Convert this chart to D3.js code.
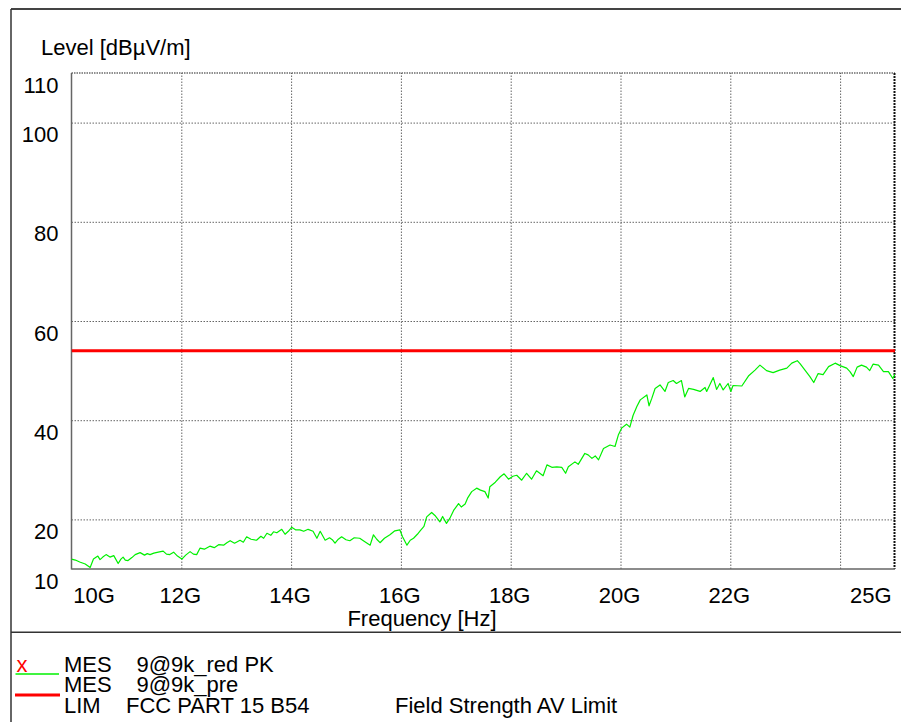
<!DOCTYPE html>
<html>
<head>
<meta charset="utf-8">
<script src="https://cdn.jsdelivr.net/npm/d3@7"></script>
<style>
  html, body { margin: 0; padding: 0; background: #fff; }
  svg { display: block; }
  text { font-family: "Liberation Sans", Arial, Helvetica, sans-serif; fill: #000; }
</style>
</head>
<body>
<svg id="chart" width="901" height="722"></svg>
<script>
// ---------- data ----------
const freqGHz = [10.00,10.07,10.15,10.25,10.34,10.40,10.48,10.52,10.57,10.63,10.70,10.77,10.85,10.90,10.94,10.98,11.03,11.10,11.16,11.25,11.33,11.38,11.43,11.50,11.58,11.67,11.73,11.79,11.86,11.93,12.01,12.08,12.16,12.22,12.28,12.34,12.42,12.52,12.60,12.68,12.77,12.83,12.89,12.97,13.07,13.13,13.19,13.27,13.37,13.45,13.50,13.56,13.63,13.68,13.74,13.83,13.89,13.95,14.01,14.08,14.16,14.23,14.31,14.40,14.47,14.53,14.62,14.70,14.75,14.80,14.86,14.92,15.00,15.07,15.15,15.25,15.33,15.44,15.50,15.56,15.62,15.70,15.80,15.89,15.98,16.03,16.11,16.17,16.23,16.30,16.35,16.42,16.47,16.56,16.62,16.71,16.76,16.83,16.89,16.96,17.05,17.10,17.17,17.22,17.29,17.38,17.45,17.53,17.59,17.62,17.72,17.81,17.88,17.96,18.04,18.11,18.20,18.29,18.38,18.47,18.59,18.66,18.75,18.84,18.93,19.00,19.05,19.17,19.23,19.35,19.41,19.48,19.54,19.60,19.69,19.81,19.90,19.96,20.02,20.11,20.17,20.23,20.30,20.36,20.48,20.52,20.57,20.63,20.72,20.81,20.87,20.96,21.02,21.11,21.17,21.24,21.33,21.45,21.54,21.57,21.69,21.75,21.81,21.87,21.96,22.01,22.05,22.21,22.33,22.45,22.54,22.66,22.78,22.90,23.03,23.12,23.22,23.27,23.36,23.45,23.52,23.60,23.69,23.79,23.91,24.00,24.12,24.18,24.24,24.31,24.39,24.48,24.54,24.60,24.70,24.79,24.88,24.96,25.00];
const levelPK = [12.0,11.8,11.4,11.0,10.3,12.0,12.6,11.9,12.4,12.9,12.4,12.7,11.1,12.0,12.4,11.8,11.7,12.3,12.9,13.3,12.8,13.1,12.9,13.2,13.4,13.6,13.0,12.9,13.4,12.6,12.0,12.8,13.5,13.0,12.9,14.2,14.0,14.6,14.3,14.9,14.8,15.3,15.7,15.2,15.8,15.4,16.5,16.0,15.8,16.6,16.2,17.2,16.8,17.5,17.3,18.0,17.0,17.6,18.4,17.9,17.9,17.6,18.0,17.6,16.2,17.6,15.8,16.3,15.9,15.2,16.0,16.5,15.9,15.7,16.3,16.2,15.6,14.8,16.9,16.0,15.3,16.2,16.9,17.7,17.9,16.5,14.8,15.8,16.2,17.0,17.7,18.6,20.5,21.4,20.8,19.5,20.6,19.2,20.2,21.8,23.2,22.5,23.1,24.4,25.6,26.3,25.9,25.6,24.3,26.6,27.5,28.6,29.2,28.1,28.7,28.9,27.9,29.3,28.1,29.8,28.8,31.0,30.5,30.6,30.5,29.3,30.6,31.6,31.1,33.3,33.0,32.3,32.8,32.0,34.3,35.0,34.7,37.0,38.4,39.2,38.6,41.0,42.8,44.1,45.1,42.9,44.4,46.4,47.1,45.8,47.6,48.0,47.4,48.0,44.7,46.4,46.2,45.8,46.6,45.8,48.6,46.2,47.4,46.1,47.4,45.8,47.0,46.9,48.9,50.1,51.1,50.0,49.6,50.1,50.5,51.5,52.0,51.4,50.1,48.8,47.6,49.4,49.2,50.8,51.5,51.0,50.5,49.8,48.8,50.7,51.1,50.7,50.0,51.3,51.1,49.8,49.8,48.4,49.3];
const limitFreqGHz = [10, 25];
const limitLevel = [54, 54];
const yTickValues = [10, 20, 40, 60, 80, 100, 110];
const yGridValues = [20, 40, 60, 80, 100];
const xTickValues = [10, 12, 14, 16, 18, 20, 22, 25];
const xTickLabels = ["10G", "12G", "14G", "16G", "18G", "20G", "22G", "25G"];
const xGridValues = [12, 14, 16, 18, 20, 22, 24];
const legendRows = [
  { kind: "MES", name: "9@9k_red PK", extra: "" },
  { kind: "MES", name: "9@9k_pre", extra: "" },
  { kind: "LIM", name: "FCC PART 15 B54", extra: "Field Strength AV Limit" }
];

// ---------- layout ----------
const W = 901, H = 722;
const plot = { left: 71.5, right: 895, top: 73, bottom: 569 };
const svg = d3.select("#chart");
const FS = 22;

const x = d3.scaleLinear().domain([10, 25]).range([plot.left, plot.right]);
const y = d3.scaleLinear().domain([10, 110]).range([plot.bottom, plot.top]);

// outer frame
svg.append("line").attr("x1", 11).attr("x2", W).attr("y1", 9).attr("y2", 9)
  .attr("stroke", "#444").attr("stroke-width", 2);
svg.append("line").attr("x1", 11).attr("x2", 11).attr("y1", 9).attr("y2", H)
  .attr("stroke", "#333").attr("stroke-width", 1.5);
svg.append("line").attr("x1", 11).attr("x2", W).attr("y1", 632.3).attr("y2", 632.3)
  .attr("stroke", "#333").attr("stroke-width", 1.5);

// grid
const gridX = svg.append("g")
  .attr("transform", `translate(0,${plot.bottom})`)
  .call(d3.axisBottom(x).tickValues(xGridValues).tickSize(-(plot.bottom - plot.top)).tickFormat(""));
gridX.select(".domain").remove();
gridX.selectAll("line").attr("stroke", "#666").attr("stroke-dasharray", "1.5,1.5").attr("stroke-width", 1);

const gridY = svg.append("g")
  .attr("transform", `translate(${plot.left},0)`)
  .call(d3.axisLeft(y).tickValues(yGridValues).tickSize(-(plot.right - plot.left)).tickFormat(""));
gridY.select(".domain").remove();
gridY.selectAll("line").attr("stroke", "#666").attr("stroke-dasharray", "1.5,1.5").attr("stroke-width", 1);

// plot borders
svg.append("line").attr("x1", plot.left).attr("x2", plot.right).attr("y1", plot.top).attr("y2", plot.top)
  .attr("stroke", "#222").attr("stroke-dasharray", "1.5,1").attr("stroke-width", 1.2);
svg.append("line").attr("x1", plot.right - 0.5).attr("x2", plot.right - 0.5).attr("y1", plot.top).attr("y2", plot.bottom)
  .attr("stroke", "#111").attr("stroke-dasharray", "2,1").attr("stroke-width", 2);
svg.append("line").attr("x1", plot.left).attr("x2", plot.left).attr("y1", plot.top).attr("y2", plot.bottom + 0.5)
  .attr("stroke", "#666").attr("stroke-width", 1.5);
svg.append("line").attr("x1", plot.left).attr("x2", plot.right).attr("y1", plot.bottom).attr("y2", plot.bottom)
  .attr("stroke", "#666").attr("stroke-width", 1.5);

// y axis labels
const yAxis = svg.append("g")
  .attr("transform", `translate(${plot.left},0)`)
  .call(d3.axisLeft(y).tickValues(yTickValues).tickSize(0).tickPadding(0).tickFormat(d3.format("d")));
yAxis.select(".domain").remove();
yAxis.selectAll("text")
  .attr("x", -13).attr("dy", 19).attr("y", 0)
  .attr("text-anchor", "end")
  .style("font-size", FS + "px")
  .style("font-family", '"Liberation Sans", Arial, sans-serif')
  .attr("fill", "#000");

// x axis labels
const xAxis = svg.append("g")
  .attr("transform", `translate(0,${plot.bottom})`)
  .call(d3.axisBottom(x).tickValues(xTickValues).tickSize(0).tickPadding(0)
    .tickFormat((d, i) => xTickLabels[i]));
xAxis.select(".domain").remove();
xAxis.selectAll("text")
  .attr("y", 34).attr("dy", 0)
  .style("font-size", FS + "px")
  .style("font-family", '"Liberation Sans", Arial, sans-serif')
  .attr("fill", "#000")
  .attr("text-anchor", (d, i) => i === 0 ? "start" : (i === xTickValues.length - 1 ? "end" : "middle"))
  .attr("x", (d, i) => i === 0 ? 1.2 : (i === xTickValues.length - 1 ? -4 : -1.5));

// axis titles
svg.append("text").attr("x", 41).attr("y", 55).style("font-size", FS + "px").text("Level [dBµV/m]");
svg.append("text").attr("x", 422).attr("y", 626).attr("text-anchor", "middle").style("font-size", FS + "px").text("Frequency [Hz]");

// clip
svg.append("clipPath").attr("id", "clip").append("rect")
  .attr("x", plot.left).attr("y", plot.top).attr("width", plot.right - plot.left).attr("height", plot.bottom - plot.top);

// limit line
const limitData = limitFreqGHz.map((f, i) => ({ f, v: limitLevel[i] }));
svg.append("path").datum(limitData)
  .attr("clip-path", "url(#clip)")
  .attr("fill", "none").attr("stroke", "#ff0000").attr("stroke-width", 3)
  .attr("d", d3.line().x(d => x(d.f)).y(d => y(d.v)));

// measurement trace
const traceData = freqGHz.map((f, i) => ({ f, v: levelPK[i] }));
svg.append("path").datum(traceData)
  .attr("clip-path", "url(#clip)")
  .attr("fill", "none").attr("stroke", "#00f000").attr("stroke-width", 1.2)
  .attr("stroke-linejoin", "round")
  .attr("d", d3.line().x(d => x(d.f)).y(d => y(d.v)));

// legend
const legBase = [671.7, 691.7, 713];
svg.append("text").attr("x", 16.5).attr("y", 671.5).style("font-size", FS + "px").style("fill", "#ff0000").text("x");
svg.append("line").attr("x1", 15.5).attr("x2", 59).attr("y1", 674).attr("y2", 674).attr("stroke", "#00f000").attr("stroke-width", 1.3);
svg.append("line").attr("x1", 15).attr("x2", 60).attr("y1", 695).attr("y2", 695).attr("stroke", "#ff0000").attr("stroke-width", 3);
legendRows.forEach((r, i) => {
  svg.append("text").attr("x", 64).attr("y", legBase[i]).style("font-size", FS + "px").text(r.kind);
  svg.append("text").attr("x", i < 2 ? 136.5 : 126).attr("y", legBase[i]).style("font-size", FS + "px").text(r.name);
  if (r.extra) svg.append("text").attr("x", 395).attr("y", legBase[i]).style("font-size", FS + "px").text(r.extra);
});
</script>
</body>
</html>
